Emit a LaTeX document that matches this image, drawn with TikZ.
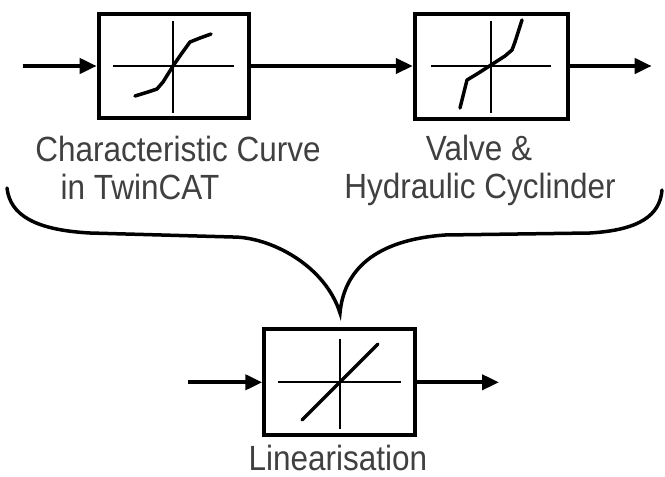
\documentclass[tikz,border=0pt]{standalone}
\usepackage{fontspec}
\setmainfont{Liberation Sans}[FakeStretch=0.9]
\usetikzlibrary{arrows.meta}
\begin{document}
\begin{tikzpicture}[x=1pt,y=-1pt,
  blk/.style={draw, line width=4pt, inner sep=0pt},
  axisline/.style={line width=1.3pt},
  curveline/.style={line width=3.5pt, line join=round, line cap=round},
  flow/.style={line width=4pt, -{Triangle[length=17pt,width=15pt]}},
  lbl/.style={font=\fontsize{35}{40}\selectfont, text=black!75, inner sep=0pt, anchor=base},
  bracestyle/.style={line width=3.5pt, line cap=round}]
\useasboundingbox (0,0) rectangle (665,477);

% blocks
\node[blk, minimum width=150pt, minimum height=104pt] (b1) at (173.7,66) {};
\node[blk, minimum width=153pt, minimum height=105pt] (b2) at (491.3,66) {};
\node[blk, minimum width=151pt, minimum height=106pt] (b3) at (339.8,382.3) {};

% axes
\draw[axisline] (113,66) -- (234,66);
\draw[axisline] (173,21) -- (173,113);
\draw[axisline] (431,66) -- (551,66);
\draw[axisline] (491,21) -- (491,113);
\draw[axisline] (278,382) -- (401,382);
\draw[axisline] (340,339) -- (340,429);

% characteristic curves
\draw[curveline] (135,96) -- (148,92) -- (157,89) -- (163,82) -- (173,66) -- (182,53) -- (190,42) -- (200,38) -- (211,34);
\draw[curveline] (460,108) -- (464,92) -- (467,80) -- (477,74) -- (491,65) -- (505,56) -- (512,50) -- (515,42) -- (522,20);
\draw[curveline] (302,420) -- (378,344);

% connectors
\coordinate (in1) at (22.7,66);
\coordinate (out2) at (651.7,66);
\coordinate (in3) at (188,382.3);
\coordinate (out3) at (499,382.3);
\draw[flow] (in1) -- (b1.west);
\draw[flow] (b1.east) -- (b2.west);
\draw[flow] (b2.east) -- (out2);
\draw[flow] (in3) -- (b3.west);
\draw[flow] (b3.east) -- (out3);

% labels
\node[lbl] (t1) at (178,161) {Characteristic Curve};
\node[lbl] (t2) at (140,199) {in TwinCAT};
\node[lbl] (t3) at (479,160) {Valve \&};
\node[lbl] (t4) at (480,198) {Hydraulic Cyclinder};
\node[lbl] (t5) at (338,470) {Linearisation};

% brace
\coordinate (tip) at (340,313);
\draw[bracestyle] (7,188) .. controls (10,215) and (35,230) .. (90,233)
  -- (233,237) .. controls (270,237) and (325,265) .. (tip)
  .. controls (344,270) and (375,240) .. (445,235)
  -- (590,233) .. controls (640,230) and (660,215) .. (662,190);
\end{tikzpicture}
\end{document}
